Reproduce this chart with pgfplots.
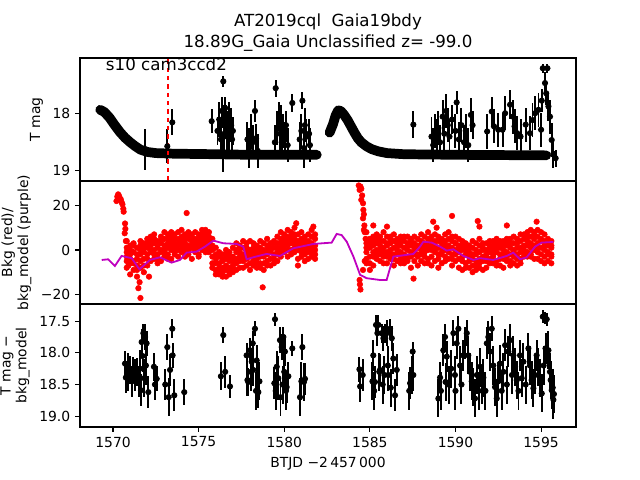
\documentclass[border=0pt]{standalone}
\usepackage{fontspec}
\setmainfont{DejaVu Sans}
\usepackage{pgfplots}
\usepackage{pgfplotstable}
\pgfplotsset{compat=1.18}
\definecolor{mpurple}{rgb}{0.75,0,0.75}

% common look of the three stacked panels
\pgfplotsset{
  panel/.style={
    scale only axis, width=357.12pt, height=88.56pt,
    xmin=1568.07, xmax=1597.04,
    axis line style={line width=0.8pt},
    every tick/.style={line width=0.8pt, black},
    major tick length=3.5pt,
    tick align=outside,
    ytick pos=left, xtick pos=bottom,
    tick label style={font=\fontsize{10}{12}\selectfont},
    label style={font=\fontsize{10}{11.5}\selectfont},
    /pgf/number format/assume math mode=true,
    /pgf/number format/set thousands separator={},
    ylabel style={align=center},
  },
  errpt/.style={black, only marks, mark=*, mark size=1.9pt, line width=1.4pt,
    mark options={fill=black, line width=0.6pt},
    error bars/.cd, y dir=both, y explicit, error mark=none,
    error bar style={line width=1.4pt}},
  redpt/.style={red, only marks, mark=*, mark size=2pt, mark options={fill=red, draw=red}},
}

% top panel outliers: x mag err
\pgfplotstableread{
x y e
1571.87 18.62 0.36
1573.17 18.57 0.30
1573.46 18.15 0.23
1575.76 18.13 0.21
1576.44 17.43 0.10
1576.10 18.30 0.25
1576.20 18.10 0.30
1576.30 18.45 0.35
1576.35 17.95 0.25
1576.45 18.20 0.35
1576.50 18.35 0.30
1576.55 17.90 0.20
1576.60 18.15 0.30
1576.65 18.40 0.35
1576.70 18.25 0.30
1576.75 18.05 0.25
1576.80 18.35 0.30
1576.90 18.20 0.30
1576.95 18.45 0.30
1577.00 18.30 0.25
1576.44 18.70 0.32
1577.85 18.45 0.30
1577.95 18.60 0.35
1578.05 18.30 0.30
1578.15 18.50 0.30
1578.29 17.95 0.20
1578.35 18.43 0.25
1578.45 18.65 0.30
1579.50 17.55 0.15
1579.45 18.50 0.30
1579.60 18.25 0.30
1579.70 18.05 0.25
1579.75 18.35 0.35
1579.80 18.15 0.30
1579.85 18.50 0.30
1579.95 18.30 0.30
1580.05 18.45 0.30
1580.10 18.20 0.25
1580.20 18.55 0.30
1580.47 17.81 0.15
1581.06 17.77 0.15
1580.90 18.45 0.30
1581.00 18.30 0.30
1581.15 18.60 0.35
1581.20 18.20 0.30
1581.30 18.40 0.30
1581.45 18.35 0.25
1581.50 18.55 0.30
1587.54 18.19 0.24
1588.60 18.40 0.35
1588.70 18.55 0.30
1588.80 18.30 0.30
1588.90 18.45 0.35
1589.00 18.25 0.30
1589.10 18.50 0.30
1589.25 18.05 0.30
1589.35 18.35 0.30
1589.45 17.95 0.30
1589.55 18.20 0.30
1589.65 18.40 0.30
1589.80 18.10 0.25
1590.00 18.30 0.30
1590.07 17.80 0.20
1590.20 18.45 0.30
1590.35 18.20 0.30
1590.50 18.50 0.30
1590.60 18.30 0.30
1590.75 18.55 0.30
1590.90 18.02 0.30
1591.00 18.20 0.25
1591.85 18.31 0.30
1592.12 17.96 0.25
1592.25 18.22 0.30
1592.50 18.28 0.30
1592.75 18.28 0.30
1592.90 17.99 0.30
1593.19 17.84 0.25
1593.35 18.05 0.30
1593.45 18.22 0.30
1593.60 18.34 0.30
1593.80 18.40 0.30
1594.10 18.19 0.30
1594.35 18.34 0.30
1594.50 18.11 0.30
1594.65 17.99 0.30
1594.85 17.93 0.30
1595.04 17.77 0.20
1595.10 17.20 0.08
1595.37 17.20 0.08
1595.23 17.46 0.20
1595.30 17.64 0.20
1595.43 17.87 0.25
1595.52 18.05 0.30
1595.00 18.28 0.30
1595.62 18.46 0.30
1595.72 18.70 0.25
1595.85 18.78 0.15
}\toptab

% background: x and six readings per step
\pgfplotstableread{
x a b c d e f
1570.8 4 -3 -8 1 -5 -1
1571.0 -2 2 -11 -6 0 -4
1571.2 3 -5 -1 -9 -6 2
1571.4 -7 1 -4 -12 -2 -9
1571.6 2 -8 -2 4 -5 0
1571.8 -4 3 -10 -1 -7 1
1572.0 5 -2 -7 1 3 -4
1572.2 -1 6 -5 2 0 4
1572.4 3 -4 7 0 -2 5
1572.6 -6 4 1 -2 2 -4
1572.8 6 -1 3 -5 0 4
1573.0 2 8 -3 0 5 -1
1573.2 -2 5 1 7 3 -4
1573.4 4 -4 6 2 0 8
1573.6 1 7 -1 5 3 -2
1573.8 -3 3 8 0 5 2
1574.0 6 -1 2 9 4 0
1574.2 3 7 -3 1 5 -1
1574.4 5 0 8 -2 2 6
1574.6 1 6 -4 4 7 2
1574.8 8 2 5 -1 0 4
1575.0 3 -2 7 1 5 -3
1575.2 6 9 0 4 2 7
1575.4 -1 5 3 7 1 9
1575.6 4 0 8 2 6 -1
1575.8 2 -3 5 -6 0 -8
1576.0 -4 -9 1 -6 -2 -11
1576.2 -8 -3 -11 -6 -1 -10
1576.4 -2 -10 -5 -12 -8 -4
1576.6 -7 0 -4 -9 -12 -2
1576.8 -5 -11 -1 -8 -3 -10
1577.0 -3 -7 1 -10 -5 -8
1577.2 -1 -6 3 -4 -9 0
1577.4 2 -3 -8 -1 -5 1
1577.6 -5 1 -2 4 -8 -3
1577.8 0 -7 3 -4 -2 1
1578.0 -2 4 -6 -9 0 -3
1578.2 3 -1 -5 1 -7 -3
1578.4 -4 2 -8 -2 0 -6
1578.6 1 -6 4 -3 -1 -8
1578.8 -3 -9 0 -6 -2 3
1579.0 2 -2 5 -5 0 -7
1579.2 -1 3 -7 0 1 -4
1579.4 4 -4 1 -2 -6 3
1579.6 -2 6 -1 3 1 -5
1579.8 5 1 -3 8 3 -1
1580.0 2 7 -1 4 6 0
1580.2 0 4 9 -3 2 6
1580.4 6 -2 3 8 0 5
1580.6 3 10 -1 5 7 1
1580.8 -4 7 2 -7 0 4
1581.0 5 -1 8 1 3 -3
1581.2 2 6 -5 -2 4 0
1581.4 -1 4 7 0 2 -4
1581.6 3 -3 9 1 6 -1
1581.8 0 5 -2 2 7 -4
1584.8 3 -6 8 -1 1 -4
1585.0 -3 5 -9 1 3 -6
1585.2 6 -1 2 -7 4 -3
1585.4 0 7 -4 3 -2 5
1585.6 -5 2 6 -2 0 4
1585.8 4 -3 1 8 -1 -6
1586.0 -1 6 -6 2 3 -3
1586.2 5 0 3 -4 -2 6
1586.4 -2 7 -7 1 4 -4
1586.6 3 -5 5 0 -2 2
1586.8 -4 2 -1 6 4 -6
1587.0 1 -6 4 -2 6 -4
1587.2 6 -3 0 3 -5 2
1587.4 -1 4 -8 2 5 -3
1587.6 3 -2 6 -5 1 -1
1587.8 -3 1 -7 5 2 -2
1588.0 2 7 -2 -5 0 4
1588.2 -6 3 1 -1 6 -3
1588.4 5 -4 8 0 2 -6
1588.6 0 6 -3 2 -7 4
1588.8 -5 2 7 -1 0 4
1589.0 4 -2 1 -8 6 -4
1589.2 -1 5 -6 3 1 -2
1589.4 7 -3 2 0 -5 4
1589.6 1 8 -4 5 -1 2
1589.8 -2 4 -7 1 6 -4
1590.0 3 -5 6 0 -2 3
1590.2 -4 1 5 -8 -1 2
1590.4 2 -3 -9 4 -5 0
1590.6 -6 0 -2 3 -8 1
1590.8 -1 -8 2 -5 -3 1
1591.0 1 -4 -10 4 -2 -7
1591.2 -7 3 -2 -5 0 -9
1591.4 2 -6 -1 5 -4 -8
1591.6 -3 0 -9 1 -5 3
1591.8 -5 3 -2 -8 0 -3
1592.0 1 -4 4 -1 -6 2
1592.2 -6 2 -3 0 -2 4
1592.4 3 -5 -1 5 1 -7
1592.6 -2 1 -7 2 4 -4
1592.8 -4 4 0 -8 2 -2
1593.0 2 -3 5 -1 -5 3
1593.2 -5 1 -2 3 -7 5
1593.4 0 6 -6 -3 3 -1
1593.6 3 -2 1 -7 5 -4
1593.8 -1 4 -4 7 1 -6
1594.0 5 0 -3 2 7 -1
1594.2 2 8 -1 4 -3 6
1594.4 6 -2 3 9 1 -3
1594.6 0 7 -4 5 2 8
1594.8 3 9 -1 6 -4 1
1595.0 -2 5 8 1 4 -5
1595.2 4 -3 7 0 2 -6
1595.4 -5 2 5 -1 3 -2
1595.6 1 -6 4 -2 -3 2
}\redtab

% bottom panel: x mag-bkg err
\pgfplotstableread{
x y e
1570.70 18.17 0.20
1570.75 18.39 0.25
1570.85 18.30 0.30
1570.99 18.27 0.22
1571.10 18.45 0.25
1571.19 18.27 0.20
1571.30 18.35 0.25
1571.38 18.30 0.22
1571.50 18.45 0.25
1571.58 18.25 0.30
1571.63 18.59 0.25
1571.67 17.83 0.20
1571.72 18.05 0.25
1571.77 17.69 0.15
1571.82 18.40 0.30
1571.87 17.75 0.20
1571.92 18.20 0.30
1571.96 17.85 0.20
1572.06 18.62 0.25
1572.39 18.22 0.22
1572.45 18.50 0.25
1572.55 18.41 0.20
1573.05 18.50 0.25
1573.17 17.91 0.20
1573.25 18.70 0.30
1573.33 18.27 0.25
1573.46 17.62 0.15
1573.48 18.04 0.20
1573.58 18.67 0.25
1574.16 18.62 0.20
1576.30 18.37 0.22
1576.44 17.72 0.12
1576.55 18.30 0.25
1576.83 18.53 0.18
1577.80 18.04 0.20
1577.85 18.43 0.25
1577.90 18.46 0.22
1578.00 17.96 0.20
1578.05 18.30 0.30
1578.10 18.14 0.22
1578.16 17.85 0.20
1578.19 18.27 0.25
1578.29 17.62 0.12
1578.35 18.60 0.30
1578.39 18.12 0.25
1578.49 18.62 0.25
1578.55 18.45 0.30
1579.42 18.48 0.25
1579.46 17.47 0.10
1579.50 18.60 0.30
1579.56 18.22 0.25
1579.65 18.40 0.35
1579.75 17.80 0.20
1579.78 18.70 0.30
1579.85 17.91 0.20
1579.90 18.50 0.30
1579.95 17.75 0.15
1580.00 18.30 0.30
1580.04 17.98 0.22
1580.10 18.60 0.30
1580.14 18.54 0.25
1580.24 18.37 0.22
1580.47 17.93 0.12
1580.92 18.70 0.30
1581.00 18.45 0.30
1581.06 17.91 0.20
1581.15 18.46 0.30
1581.21 18.41 0.25
1584.39 18.26 0.20
1584.43 18.53 0.25
1584.58 18.35 0.25
1585.15 18.45 0.30
1585.20 18.04 0.25
1585.25 18.60 0.30
1585.30 18.46 0.25
1585.36 17.56 0.15
1585.44 17.69 0.20
1585.50 17.56 0.15
1585.55 18.30 0.30
1585.59 18.27 0.25
1585.69 17.69 0.15
1585.75 18.50 0.30
1585.79 17.77 0.20
1585.85 18.35 0.30
1585.89 17.69 0.15
1585.98 17.69 0.20
1586.05 18.20 0.30
1586.08 18.35 0.25
1586.18 17.62 0.15
1586.22 18.55 0.30
1586.28 17.77 0.20
1586.37 18.09 0.25
1586.47 18.67 0.25
1586.57 18.27 0.25
1587.30 18.60 0.30
1587.35 18.48 0.25
1587.45 18.35 0.30
1587.50 17.98 0.15
1587.54 18.35 0.25
1589.00 18.72 0.30
1589.10 18.39 0.25
1589.15 18.60 0.30
1589.29 17.96 0.25
1589.39 17.75 0.20
1589.42 18.46 0.30
1589.49 18.06 0.25
1589.60 18.50 0.30
1589.75 18.25 0.30
1589.88 17.69 0.20
1589.97 18.35 0.30
1590.00 18.60 0.30
1590.07 17.85 0.25
1590.17 17.62 0.20
1590.27 18.20 0.30
1590.35 18.50 0.30
1590.46 18.04 0.25
1590.56 17.85 0.25
1590.66 17.69 0.20
1590.75 18.04 0.30
1590.85 18.30 0.30
1590.95 18.45 0.30
1591.05 18.54 0.30
1591.14 18.72 0.30
1591.25 18.35 0.30
1591.35 18.60 0.30
1591.44 18.22 0.30
1591.55 18.50 0.30
1591.63 18.39 0.30
1591.75 18.60 0.30
1591.83 17.85 0.25
1591.92 17.75 0.25
1592.02 17.98 0.30
1592.12 17.62 0.20
1592.21 18.20 0.30
1592.31 18.54 0.30
1592.41 18.72 0.30
1592.50 18.45 0.30
1592.60 18.17 0.30
1592.70 18.60 0.30
1592.80 18.30 0.30
1592.90 17.88 0.25
1593.00 18.50 0.30
1593.09 17.98 0.25
1593.19 17.80 0.25
1593.30 18.35 0.30
1593.38 18.04 0.30
1593.48 18.22 0.30
1593.58 18.43 0.30
1593.68 18.60 0.30
1593.77 18.04 0.25
1593.87 18.40 0.30
1593.97 18.14 0.30
1594.10 18.50 0.30
1594.26 17.93 0.25
1594.35 18.20 0.30
1594.45 18.43 0.30
1594.55 18.56 0.30
1594.65 18.35 0.30
1594.74 18.04 0.25
1594.84 18.22 0.30
1594.95 18.40 0.30
1595.04 18.64 0.30
1595.10 17.43 0.10
1595.15 18.20 0.30
1595.23 17.45 0.10
1595.26 17.93 0.25
1595.33 17.47 0.10
1595.43 17.96 0.30
1595.52 18.30 0.30
1595.56 18.43 0.30
1595.62 18.59 0.30
1595.68 18.55 0.30
1595.72 18.74 0.30
1595.75 18.65 0.30
}\bottab

\begin{document}
\begin{tikzpicture}
\useasboundingbox (-57.6pt,-38.16pt) rectangle (403.2pt,307.44pt);

% ---- top: T mag ----
\begin{axis}[panel, at={(0pt,177.12pt)},
  y dir=reverse, ymin=17.02, ymax=19.18,
  ytick={18,19}, yticklabels={18,19},
  xtick=\empty,
  ylabel={T mag}]
\addplot[black, line width=7pt, line cap=round, line join=round] coordinates {
(1569.25,17.93) (1569.5,17.97) (1569.8,18.07) (1570.1,18.20) (1570.4,18.32)
(1570.7,18.42) (1571.0,18.50) (1571.3,18.57) (1571.6,18.63) (1572.0,18.67)
(1572.5,18.69) (1573.5,18.70) (1576.0,18.71) (1578.0,18.72) (1581.9,18.72)};
\addplot[black, line width=7pt, line cap=round, line join=round] coordinates {
(1582.65,18.33) (1582.85,18.18) (1583.0,18.03) (1583.15,17.94) (1583.3,17.95)
(1583.5,18.02) (1583.7,18.11) (1583.9,18.22) (1584.1,18.33) (1584.3,18.43)
(1584.5,18.50) (1584.8,18.57) (1585.1,18.62) (1585.5,18.66) (1586.0,18.69)
(1587.0,18.71) (1590.0,18.72) (1595.3,18.73)};
\addplot[errpt] table[x=x, y=y, y error=e] {\toptab};
\addplot[red, dashed, line width=1.2pt] coordinates {(1573.2,16.9) (1573.2,19.3)};
\end{axis}

% ---- middle: background ----
\begin{axis}[panel, at={(0pt,88.56pt)},
  clip marker paths=true,
  ymin=-24.3, ymax=31.0,
  ytick={-20,0,20}, yticklabels={−20,0,20},
  xtick=\empty,
  ylabel={Bkg (red)/\\bkg\_model (purple)}]
\addplot[redpt] table[x=x, y=a] {\redtab};
\addplot[redpt] table[x=x, y=b] {\redtab};
\addplot[redpt] table[x=x, y=c] {\redtab};
\addplot[redpt] table[x=x, y=d] {\redtab};
\addplot[redpt] table[x=x, y=e] {\redtab};
\addplot[redpt] table[x=x, y=f] {\redtab};
\addplot[redpt] coordinates {
(1570.2,22) (1570.25,24) (1570.3,25) (1570.35,24.3) (1570.4,23.2) (1570.45,22.8)
(1570.5,21.5) (1570.55,20.5) (1570.6,18.5) (1570.62,17.2) (1570.7,11.9) (1570.72,9.5)
(1570.68,7.5) (1570.75,4) (1571.48,-17.2) (1571.6,-21.6) (1571.55,-14.5) (1574.3,16.6)
(1578.74,-16.8) (1580.7,12) (1581.7,10.5) (1572.1,-12) (1570.9,-7)
(1584.35,29) (1584.45,28.5) (1584.5,27.5) (1584.4,27) (1584.55,24.5) (1584.5,22.5)
(1584.6,21) (1584.62,18) (1584.65,16) (1584.6,14.2) (1584.68,11) (1584.65,9)
(1584.7,8) (1584.4,-13.5) (1584.42,-15.5) (1584.45,-17.8) (1584.75,5) (1584.7,-5)
(1584.6,-9) (1587.55,-12.9) (1588.7,12.7) (1589.8,15.3) (1591.3,13) (1591.4,10.5)
(1594.74,12.7) (1588.9,10) (1593.0,11) (1585.2,11) (1586.0,10.5)};
\addplot[mpurple, line width=1.3pt] coordinates {
(1569.34,-4.5) (1569.72,-4.2) (1570.11,-7.2) (1570.50,-2.7) (1571.09,-3.7)
(1571.54,-8.7) (1572.16,-4.5) (1572.74,-3.3) (1573.42,-5.7) (1573.91,-4.5)
(1574.30,-1.2) (1574.88,-0.75) (1575.37,1.5) (1575.86,4.2) (1576.44,3.0)
(1577.22,2.7) (1577.61,1.5) (1577.80,-4.2) (1578.19,-3.3) (1578.97,-1.8)
(1579.75,-2.7) (1580.53,0.75) (1581.70,2.7) (1582.77,3.3) (1583.06,7.2)
(1583.35,6.7) (1583.65,3.7) (1584.04,-3.0) (1584.43,-11.2) (1584.81,-12.7)
(1585.59,-13.5) (1585.98,-13.5) (1586.37,-3.0) (1586.96,-2.4) (1587.54,-1.8)
(1587.93,1.5) (1588.12,3.7) (1588.61,3.3) (1589.10,1.5) (1589.49,-0.3)
(1589.88,0.3) (1590.46,-2.7) (1591.05,-4.5) (1591.44,-3.7) (1592.21,-4.5)
(1592.99,-2.7) (1593.38,-1.2) (1593.77,-4.2) (1594.16,-3.3) (1594.65,1.5)
(1595.04,3.3) (1595.72,3.6)};
\end{axis}

% ---- bottom: T mag - bkg_model ----
\begin{axis}[panel, at={(0pt,0pt)},
  y dir=reverse, ymin=17.23, ymax=19.17,
  ytick={17.5,18,18.5,19}, yticklabels={17.5,18.0,18.5,19.0},
  xtick={1570,1575,1580,1585,1590,1595},
  xlabel={BTJD −2\,457\,000},
  ylabel={T mag −\\bkg\_model}]
\addplot[errpt] table[x=x, y=y, y error=e] {\bottab};
\end{axis}

\node[anchor=base, inner sep=0pt, font=\fontsize{12}{14}\selectfont]
  at (178.56pt,288.0pt) {AT2019cql\ \ Gaia19bdy};
\node[anchor=base, inner sep=0pt, font=\fontsize{12}{14}\selectfont]
  at (178.56pt,272.9pt) {18.89G\_Gaia Unclassified z= -99.0};
\node[anchor=base west, inner sep=0pt, font=\fontsize{12}{14}\selectfont]
  at (18.5pt,256.6pt) {s10 cam3ccd2};
\end{tikzpicture}
\end{document}
